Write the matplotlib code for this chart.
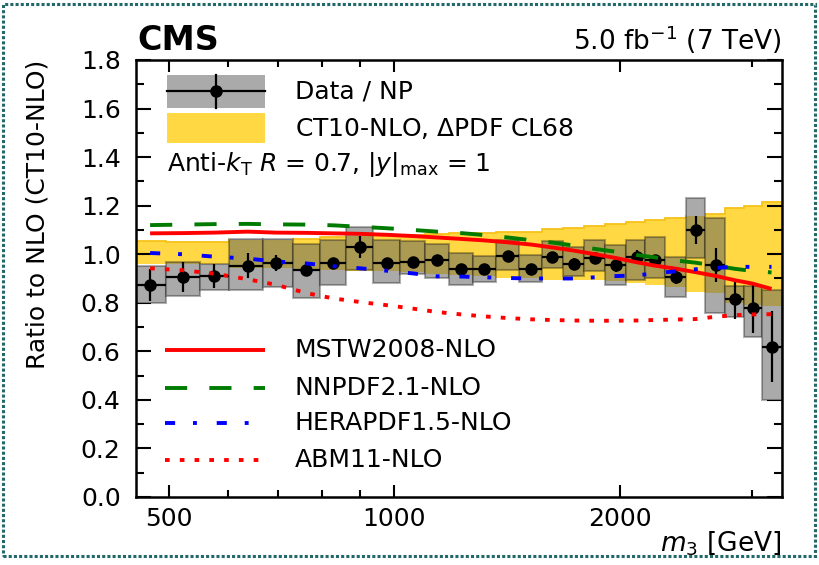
import matplotlib
matplotlib.use("Agg")
import matplotlib.pyplot as plt
from matplotlib.patches import Rectangle
from matplotlib.ticker import FixedLocator, FixedFormatter, NullFormatter

plt.rcParams['font.family'] = ['DejaVu Sans']
plt.rcParams['mathtext.fontset'] = 'dejavusans'

# ---- data -------------------------------------------------------------
# three-jet mass bin edges [GeV]
bin_edges = [452, 495, 550, 601, 668, 732, 795, 863, 935, 1016, 1097, 1181,
             1272, 1365, 1465, 1572, 1677, 1789, 1909, 2036, 2157, 2294,
             2448, 2596, 2760, 2926, 3092, 3290]
# bin centres [GeV]
mass = [472, 522, 575, 637, 695, 763, 829, 900, 977, 1058, 1140, 1228, 1317,
        1417, 1520, 1625, 1735, 1851, 1978, 2104, 2226, 2379, 2524, 2690,
        2845, 3005, 3186]
# data / NP over CT10-NLO
data_ratio = [0.873, 0.905, 0.910, 0.953, 0.963, 0.935, 0.963, 1.031, 0.963,
              0.967, 0.976, 0.939, 0.939, 0.993, 0.939, 0.987, 0.958, 0.983,
              0.955, 0.990, 0.976, 0.907, 1.100, 0.955, 0.814, 0.777, 0.619]
stat_err = [0.065, 0.062, 0.048, 0.052, 0.033, 0.020, 0.019, 0.046, 0.020,
            0.012, 0.010, 0.015, 0.012, 0.015, 0.012, 0.018, 0.025, 0.024,
            0.027, 0.029, 0.022, 0.031, 0.056, 0.070, 0.079, 0.100, 0.147]
# experimental systematic band
syst_lo = [0.800, 0.826, 0.852, 0.853, 0.866, 0.820, 0.873, 0.935, 0.880,
           0.920, 0.900, 0.873, 0.887, 0.935, 0.887, 0.942, 0.910, 0.930,
           0.873, 0.894, 0.900, 0.825, 0.983, 0.757, 0.743, 0.660, 0.400]
syst_hi = [0.950, 0.969, 0.960, 1.061, 1.061, 1.042, 1.058, 1.113, 1.058,
           1.054, 1.042, 1.003, 0.993, 1.058, 0.997, 1.054, 1.030, 1.058,
           1.038, 1.058, 1.072, 0.990, 1.230, 1.148, 0.870, 0.870, 0.853]
# CT10-NLO PDF uncertainty (CL68)
ct10_lo = [0.960, 0.960, 0.960, 0.942, 0.942, 0.937, 0.937, 0.930, 0.930,
           0.925, 0.920, 0.914, 0.910, 0.900, 0.900, 0.895, 0.895, 0.894,
           0.890, 0.880, 0.875, 0.866, 0.846, 0.840, 0.800, 0.790, 0.785]
ct10_hi = [1.054, 1.050, 1.052, 1.060, 1.060, 1.062, 1.072, 1.075, 1.078,
           1.080, 1.082, 1.086, 1.086, 1.093, 1.093, 1.105, 1.107, 1.115,
           1.123, 1.134, 1.143, 1.148, 1.157, 1.167, 1.189, 1.198, 1.216]
# other PDF sets over CT10-NLO, at the bin centres
mstw = [1.086, 1.087, 1.089, 1.093, 1.089, 1.088, 1.086, 1.084, 1.080, 1.075,
        1.069, 1.063, 1.057, 1.049, 1.040, 1.028, 1.015, 1.000, 0.984, 0.967,
        0.953, 0.940, 0.926, 0.910, 0.893, 0.879, 0.857]
nnpdf = [1.120, 1.122, 1.124, 1.125, 1.123, 1.122, 1.119, 1.113, 1.107, 1.100,
         1.093, 1.087, 1.079, 1.069, 1.058, 1.048, 1.036, 1.022, 1.010, 0.997,
         0.987, 0.974, 0.965, 0.952, 0.940, 0.931, 0.925]
hera = [1.005, 1.000, 0.990, 0.982, 0.970, 0.962, 0.951, 0.942, 0.932, 0.921,
        0.909, 0.908, 0.905, 0.902, 0.900, 0.900, 0.900, 0.905, 0.910, 0.913,
        0.921, 0.930, 0.938, 0.944, 0.948, 0.948, 0.948]
abm = [0.942, 0.934, 0.920, 0.897, 0.874, 0.840, 0.818, 0.803, 0.790, 0.776,
       0.762, 0.752, 0.744, 0.737, 0.732, 0.729, 0.727, 0.726, 0.726, 0.727,
       0.729, 0.731, 0.733, 0.743, 0.749, 0.752, 0.753]

x_major = [500, 1000, 2000]
x_major_labels = ["500", "1000", "2000"]
x_minor = [600, 700, 800, 900, 3000]
y_major = [0.0, 0.2, 0.4, 0.6, 0.8, 1.0, 1.2, 1.4, 1.6, 1.8]
y_major_labels = ["0.0", "0.2", "0.4", "0.6", "0.8", "1.0", "1.2", "1.4", "1.6", "1.8"]
y_minor = [0.1, 0.3, 0.5, 0.7, 0.9, 1.1, 1.3, 1.5, 1.7]

# ---- style ------------------------------------------------------------
YELLOW = '#ffd843'
YELLOW_EDGE = '#f6c21a'
GRAY = '#aaaaaa'
OLIVE = '#ab9a52'
BOX_EDGE = (0, 0, 0, 0.3)
FS = 18

fig = plt.figure(figsize=(8.19, 5.65), dpi=100)
ax = fig.add_axes([136 / 819, 68 / 565, 646 / 819, 437 / 565])
ax.set_xscale('log')
ax.set_xlim(bin_edges[0], bin_edges[-1])
ax.set_ylim(0.0, 1.8)

# CT10 PDF uncertainty band
n = len(mass)
ax.fill_between(bin_edges, ct10_lo + [ct10_lo[-1]], ct10_hi + [ct10_hi[-1]],
                step='post', facecolor=YELLOW, edgecolor='none', zorder=1)
ax.stairs(ct10_hi, bin_edges, color=YELLOW_EDGE, lw=1.3, zorder=1.1)

# systematic boxes of the data, with the overlap with the PDF band
for i in range(n):
    x0, x1 = bin_edges[i], bin_edges[i + 1]
    lo, hi = syst_lo[i], syst_hi[i]
    ax.add_patch(Rectangle((x0, lo), x1 - x0, hi - lo, facecolor=GRAY,
                           edgecolor='none', zorder=2))
    olo, ohi = max(lo, ct10_lo[i]), min(hi, ct10_hi[i])
    if ohi > olo:
        ax.add_patch(Rectangle((x0, olo), x1 - x0, ohi - olo,
                               facecolor=OLIVE, edgecolor='none', zorder=2))
    ax.add_patch(Rectangle((x0, lo), x1 - x0, hi - lo, facecolor='none',
                           edgecolor=BOX_EDGE, lw=1.5, zorder=2))

# data points
xerr = [[m - bin_edges[i] for i, m in enumerate(mass)],
        [bin_edges[i + 1] - m for i, m in enumerate(mass)]]
ax.errorbar(mass, data_ratio, yerr=stat_err, xerr=xerr, fmt='o', color='black',
            ms=8, elinewidth=1.6, capsize=0, zorder=3)

# alternative PDF sets
LW = 2.8
ax.plot(mass, mstw, color='#ff0000', lw=LW, solid_capstyle='butt', zorder=4)
ax.plot(mass, nnpdf, color='#007a00', lw=LW, ls=(0, (5.7, 5.7)),
        dash_capstyle='butt', zorder=4)
ax.plot(mass, hera, color='#0000ff', lw=LW, ls=(0, (2.6, 4.6, 1.0, 5.1)),
        dash_capstyle='butt', zorder=4)
ax.plot(mass, abm, color='#ff0000', lw=LW, ls=(0, (1.2, 2.6)),
        dash_capstyle='butt', zorder=4)

# ---- axes -------------------------------------------------------------
ax.xaxis.set_major_locator(FixedLocator(x_major))
ax.xaxis.set_major_formatter(FixedFormatter(x_major_labels))
ax.xaxis.set_minor_locator(FixedLocator(x_minor))
ax.xaxis.set_minor_formatter(NullFormatter())
ax.yaxis.set_major_locator(FixedLocator(y_major))
ax.yaxis.set_major_formatter(FixedFormatter(y_major_labels))
ax.yaxis.set_minor_locator(FixedLocator(y_minor))

for s in ax.spines.values():
    s.set_linewidth(1.8)
ax.tick_params(which='both', direction='in', top=True, right=True,
               width=1.5, labelsize=FS, colors='black')
ax.tick_params(axis='x', which='major', length=8.6, pad=7)
ax.tick_params(axis='x', which='minor', length=5)
ax.tick_params(axis='y', which='major', length=10.8, pad=11)
ax.tick_params(axis='y', which='minor', length=5.8)

ax.text(1.0, -0.105, r'$m_{3}$ [GeV]', transform=ax.transAxes,
        ha='right', va='center', fontsize=19)
ax.text(-0.152, 1.0, 'Ratio to NLO (CT10-NLO)', transform=ax.transAxes,
        rotation=90, ha='center', va='top', fontsize=18)
ax.text(0.0015, 1.023, 'CMS', transform=ax.transAxes, ha='left',
        va='baseline', fontsize=24, fontweight='bold')
ax.text(1.0, 1.023, r'5.0 fb$^{-1}$ (7 TeV)', transform=ax.transAxes,
        ha='right', va='baseline', fontsize=19)

# ---- legends ------------------------------------------------------------
T = ax.transAxes
lx0, lx1, tx = 0.048, 0.2, 0.246
ax.add_patch(Rectangle((lx0, 0.890), lx1 - lx0, 0.076, facecolor=GRAY,
                       edgecolor='none', transform=T, zorder=5))
ax.plot([lx0, lx1], [0.928, 0.928], color='black', lw=1.6, transform=T, zorder=6)
ax.plot([(lx0 + lx1) / 2] * 2, [0.890, 0.966], color='black', lw=1.6,
        transform=T, zorder=6)
ax.plot([(lx0 + lx1) / 2], [0.928], 'o', color='black', ms=8, transform=T,
        zorder=6)
ax.text(tx, 0.928, 'Data / NP', transform=T, va='center', fontsize=FS)

ax.add_patch(Rectangle((lx0, 0.810), lx1 - lx0, 0.069, facecolor=YELLOW,
                       edgecolor='none', transform=T, zorder=5))
ax.text(tx, 0.844, r'CT10-NLO, $\Delta$PDF CL68', transform=T, va='center',
        fontsize=FS)
ax.text(lx0, 0.762, r'Anti-$k_{\mathrm{T}}$ $R$ = 0.7, $|y|_{\mathrm{max}}$ = 1',
        transform=T, va='center', fontsize=FS)

curve_styles = [
    ('MSTW2008-NLO', '#ff0000', '-', 0.336),
    ('NNPDF2.1-NLO', '#007a00', (0, (5.7, 5.7)), 0.249),
    ('HERAPDF1.5-NLO', '#0000ff', (0, (2.6, 4.6, 1.0, 5.1)), 0.169),
    ('ABM11-NLO', '#ff0000', (0, (1.2, 2.6)), 0.085),
]
for label, col, ls, yy in curve_styles:
    ax.plot([0.045, lx1], [yy, yy], color=col, lw=LW, ls=ls, transform=T,
            solid_capstyle='butt', dash_capstyle='butt', zorder=6)
    ax.text(tx, yy, label, transform=T, va='center', fontsize=FS)

# dotted frame around the canvas
fig.add_artist(Rectangle((3 / 819, 9 / 565), 812 / 819, 552 / 565,
                         transform=fig.transFigure, facecolor='none',
                         edgecolor='#236868', lw=2.2, ls=(0, (1.0, 0.7))))

fig.savefig('out.png', dpi=100)
